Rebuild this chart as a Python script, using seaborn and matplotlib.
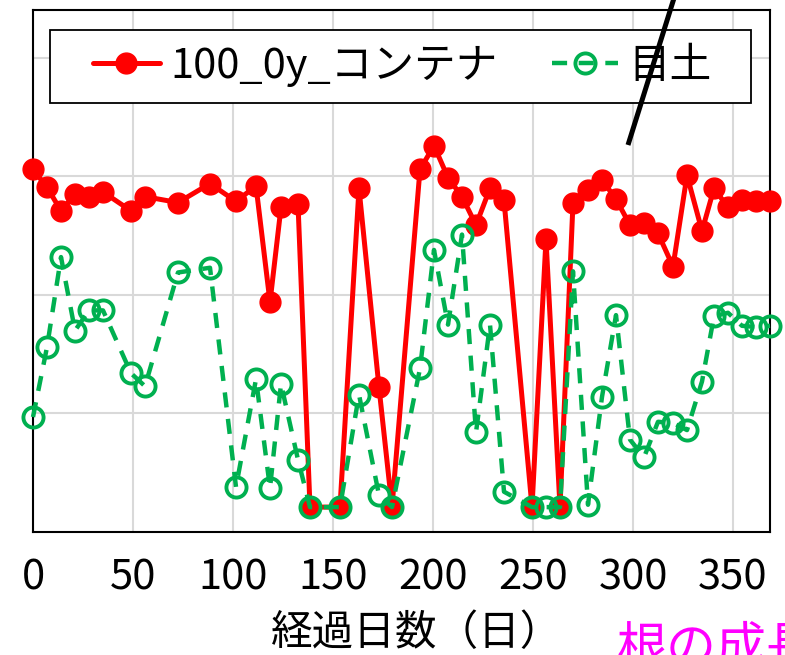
import matplotlib
matplotlib.use("Agg")
import matplotlib.pyplot as plt
from matplotlib.lines import Line2D
from matplotlib.patches import Rectangle
import seaborn as sns

# elapsed days of each measurement
days = [0, 7, 14, 21, 28, 35, 49, 56, 72.5, 88.5, 101.5, 111.5, 118.5, 124,
        132.5, 138.5, 153.5, 163, 173, 179.5, 193.5, 200.5, 207.5, 214.5,
        221.5, 228.5, 235.5, 249.5, 256.5, 263.5, 270, 277.5, 284.5, 291.5,
        298.5, 305.5, 312.5, 320, 327, 334.5, 340.5, 347.5, 354.5, 361.5, 368.5]

# container series
container = [3.06, 2.91, 2.71, 2.85, 2.83, 2.87, 2.71, 2.83, 2.78, 2.94, 2.79,
             2.92, 1.94, 2.74, 2.77, 0.21, 0.21, 2.90, 1.22, 0.21, 3.06, 3.26,
             2.99, 2.83, 2.59, 2.90, 2.80, 0.21, 2.47, 0.21, 2.78, 2.89, 2.97,
             2.81, 2.59, 2.61, 2.52, 2.24, 3.01, 2.54, 2.90, 2.74, 2.80, 2.79,
             2.79]

# top-dressing soil series
mesoil = [0.97, 1.56, 2.32, 1.70, 1.87, 1.87, 1.34, 1.23, 2.19, 2.23, 0.38,
          1.29, 0.37, 1.25, 0.61, 0.21, 0.21, 1.16, 0.31, 0.21, 1.38, 2.38,
          1.75, 2.51, 0.84, 1.75, 0.34, 0.21, 0.21, 0.21, 2.20, 0.23, 1.14,
          1.83, 0.78, 0.63, 0.93, 0.92, 0.86, 1.27, 1.82, 1.85, 1.74, 1.73,
          1.74]

series_names = ["100_0y_コンテナ", "目土"]
x_ticks = [0, 50, 100, 150, 200, 250, 300, 350]
x_label = "経過日数（日）"
note_text = "根の成長"

sns.set_style("white")
plt.rcParams["font.family"] = ["Noto Sans CJK JP", "DejaVu Sans"]
plt.rcParams["text.color"] = "black"
plt.rcParams["xtick.color"] = "black"
plt.rcParams["axes.labelcolor"] = "black"

fig = plt.figure(figsize=(7.85, 6.55), dpi=100)
ax = fig.add_axes([33 / 785, 1 - 532 / 655, 737 / 785, 522 / 655])

RED = "#ff0000"
GREEN = "#00b050"

sns.lineplot(x=days, y=container, ax=ax, color=RED, linewidth=3.6,
             marker="o", markersize=15, markeredgecolor=RED,
             markeredgewidth=1, label=series_names[0], clip_on=False,
             zorder=3)
sns.lineplot(x=days, y=mesoil, ax=ax, color=GREEN, linewidth=3.2,
             linestyle=(0, (3.4, 2.6)), marker="o", markersize=14.5,
             markerfacecolor="none", markeredgecolor=GREEN,
             markeredgewidth=2.8, label=series_names[1], clip_on=False,
             zorder=4)

ax.set_xlim(0, 368.5)
ax.set_ylim(0, 4.405)
ax.set_xticks(x_ticks)
ax.set_xticks(range(0, 370, 10), minor=True)
ax.set_yticks([1, 2, 3, 4])
ax.set_yticklabels([])
ax.tick_params(axis="y", length=0)
ax.tick_params(axis="x", which="major", direction="in", length=9, width=1.5,
               pad=18, labelsize=30, color="black", labelcolor="black")
ax.tick_params(axis="x", which="minor", direction="in", length=7, width=1.5,
               color="black")
ax.grid(True, which="major", color="#d9d9d9", linewidth=1.5)
ax.set_axisbelow(True)
for sp in ax.spines.values():
    sp.set_visible(True)
    sp.set_color("black")
    sp.set_linewidth(1.5)

ax.set_xlabel(x_label, fontsize=30, color="black")
ax.xaxis.set_label_coords((417 - 33) / 737, (532 - 613) / 522)
ax.set_ylabel("")

# legend box
ax.add_patch(Rectangle((17 / 737, (532 - 103) / 522), 701 / 737, 73 / 522,
                       transform=ax.transAxes, facecolor="white",
                       edgecolor="black", linewidth=1.3, zorder=5))
leg = ax.legend(loc="center left", bbox_to_anchor=(60 / 737, (532 - 66) / 522),
                ncol=2, frameon=False, fontsize=30, handlelength=1.6,
                handletextpad=0.25, columnspacing=1.3, borderaxespad=0,
                borderpad=0)
leg.set_zorder(6)
for t in leg.get_texts():
    t.set_color("black")

# slanted marker line crossing the top edge
fig.add_artist(Line2D([675 / 785, 628 / 785], [1 + 5 / 655, 1 - 145 / 655],
                      transform=fig.transFigure, color="black", linewidth=3.6,
                      solid_capstyle="butt", zorder=10))

fig.text(617 / 785, 1 - 662 / 655, note_text, color="#ff00ff", fontsize=36,
         ha="left", va="baseline")

fig.savefig("out.png", dpi=100)
